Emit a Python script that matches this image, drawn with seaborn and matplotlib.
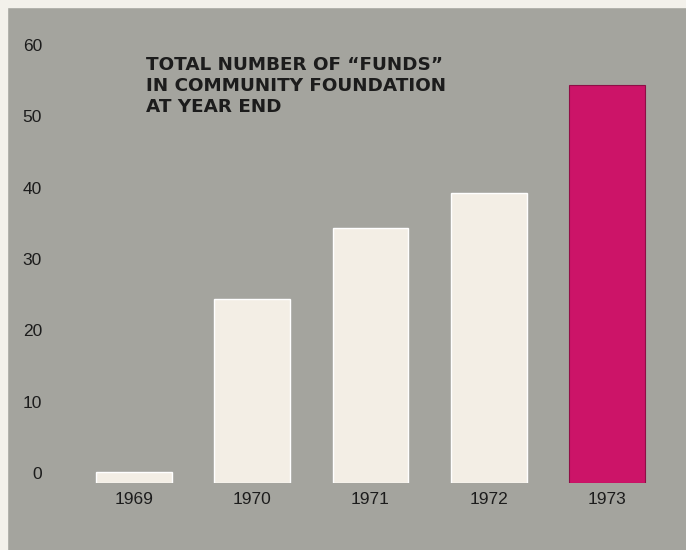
import seaborn as sns
import matplotlib.pyplot as plt
import matplotlib.transforms as mtransforms
from matplotlib.patches import Rectangle

years = ["1969", "1970", "1971", "1972", "1973"]
funds = [1.5, 25.8, 35.8, 40.7, 55.8]
bar_colors = ["#f3eee5", "#f3eee5", "#f3eee5", "#f3eee5", "#cc1468"]
y_ticks = [0, 10, 20, 30, 40, 50, 60]

gray = "#a4a49e"
paper = "#f3f1eb"
ink = "#1c1c1c"

sns.set_theme(style="white")
plt.rcParams['font.family'] = ['Liberation Sans', 'DejaVu Sans']

fig = plt.figure(figsize=(6.86, 5.5), dpi=100)
fig.patch.set_facecolor(gray)
# light paper edge at top and left
fig.add_artist(Rectangle((0, 0), 7 / 686, 1, transform=fig.transFigure, color=paper, zorder=0))
fig.add_artist(Rectangle((0, 1 - 7 / 550), 1, 7 / 550, transform=fig.transFigure, color=paper, zorder=0))

ax = fig.add_axes([60 / 686, 67 / 550, 620 / 686, 453 / 550])
ax.set_facecolor("none")

sns.barplot(x=years, y=funds, hue=years, palette=bar_colors, legend=False,
            width=0.64, saturation=1, ax=ax)
# slight dark rim on the 1973 bar
ax.patches[-1].set_edgecolor("#8e0e45")
ax.patches[-1].set_linewidth(0.8)

ax.set_xlim(-0.626, 4.617)
ax.set_ylim(0, 63.5)
ax.set_yticks(y_ticks)
ax.set_yticklabels([str(t) for t in y_ticks])
ax.tick_params(axis="both", length=0, labelsize=12.5, labelcolor=ink)
ax.tick_params(axis="y", pad=13)
ax.tick_params(axis="x", pad=6.5)
for lab in ax.get_yticklabels():
    lab.set_transform(lab.get_transform() + mtransforms.ScaledTranslation(0, 10 / 100, fig.dpi_scale_trans))
ax.set_xlabel("")
ax.set_ylabel("")
sns.despine(ax=ax, left=True, bottom=True)

fig.text(146 / 686, 1 - 56 / 550,
         "TOTAL NUMBER OF \u201cFUNDS\u201d\nIN COMMUNITY FOUNDATION\nAT YEAR END",
         ha="left", va="top", fontsize=13.2, fontweight="bold", color=ink,
         linespacing=1.22, family="DejaVu Sans")

fig.savefig("out.png", dpi=100, facecolor=fig.get_facecolor())
